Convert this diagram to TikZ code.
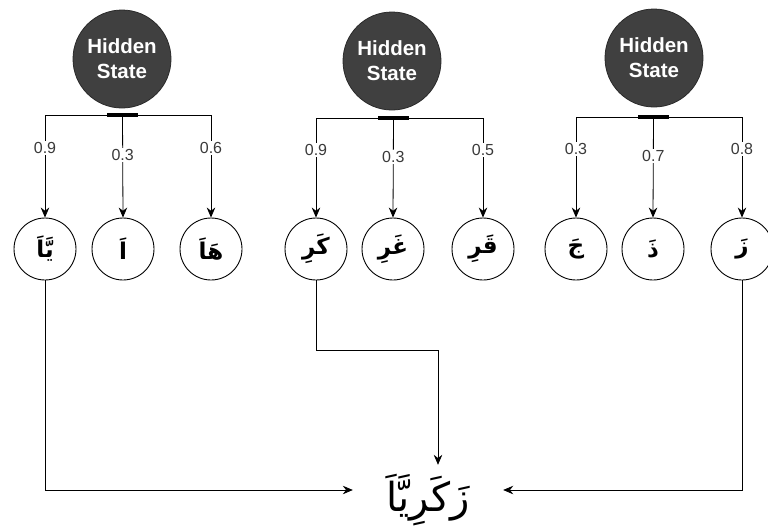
\documentclass[tikz,border=0pt]{standalone}
\usepackage{fontspec}
\setmainfont{Liberation Sans}
\newfontfamily\arabicfont[Script=Arabic]{DejaVu Sans}
\TeXXeTstate=1
\usetikzlibrary{arrows.meta}
\definecolor{hsgray}{HTML}{404040}
\definecolor{hsedge}{HTML}{2A2A2A}
\definecolor{probgray}{HTML}{3A3A3A}

\begin{document}
\begin{tikzpicture}[x=1pt,y=-1pt,
  hidden/.style={circle, fill=hsgray, draw=hsedge, line width=0.8pt, minimum size=98pt,
    inner sep=0pt, text=white, align=center, font=\bfseries\fontsize{20.5}{25}\selectfont},
  letter/.style={circle, draw, line width=0.9pt, minimum size=62pt, inner sep=0pt,
    font=\arabicfont\bfseries\fontsize{23}{26}\selectfont},
  junction/.style={rectangle, fill=black, minimum width=31pt, minimum height=4pt, inner sep=0pt},
  conn/.style={draw, line width=0.8pt, -{Stealth[length=10pt,width=8.5pt]}},
  prob/.style={fill=white, text=probgray, inner sep=1.5pt, font=\fontsize{16}{18}\selectfont},
]
\useasboundingbox (0,0) rectangle (768,525);

% hidden states
\node[hidden] (hs1) at (122,59) {Hidden\\State};
\node[hidden] (hs2) at (392,61) {Hidden\\State};
\node[hidden] (hs3) at (654,58) {Hidden\\State};

% junction bars below each hidden state
\node[junction] (b1) at (122.5,115) {};
\node[junction] (b2) at (393.5,118) {};
\node[junction] (b3) at (653.5,117) {};

% candidate syllables
\node[letter] (c11) at (45,249)  {\beginR يَّاَ\endR};
\node[letter] (c12) at (123,249) {\beginR اَ\endR};
\node[letter] (c13) at (211,249) {\beginR هَاَ\endR};
\node[letter] (c21) at (316,249) {\beginR كَرِ\endR};
\node[letter] (c22) at (393,249) {\beginR غَرِ\endR};
\node[letter] (c23) at (483,249) {\beginR قَرِ\endR};
\node[letter] (c31) at (576,249) {\beginR جَ\endR};
\node[letter] (c32) at (653,249) {\beginR ذَ\endR};
\node[letter] (c33) at (742,249) {\beginR زَ\endR};

% resulting word (baseline pushed down inside a fixed-size box)
\node[minimum width=150pt, minimum height=48pt, inner sep=0pt,
      text height=46pt, text depth=4pt,
      font=\arabicfont\fontsize{40}{42}\selectfont] (word) at (428,490) {\beginR زَكَرِيَّاَ\endR};
\coordinate (bend) at (438,350);

% emission probabilities
\draw[conn] (b1.center) -| node[prob, pos=0.66] {0.9} (c11.north);
\draw[conn] (b1.center) -- node[prob, pos=0.39] {0.3} (c12.north);
\draw[conn] (b1.center) -| node[prob, pos=0.66] {0.6} (c13.north);

\draw[conn] (b2.center) -| node[prob, pos=0.66] {0.9} (c21.north);
\draw[conn] (b2.center) -- node[prob, pos=0.39] {0.3} (c22.north);
\draw[conn] (b2.center) -| node[prob, pos=0.66] {0.5} (c23.north);

\draw[conn] (b3.center) -| node[prob, pos=0.66] {0.3} (c31.north);
\draw[conn] (b3.center) -- node[prob, pos=0.39] {0.7} (c32.north);
\draw[conn] (b3.center) -| node[prob, pos=0.66] {0.8} (c33.north);

% chosen syllables combine into the word
\draw[conn] (c11.south) |- (word.west);
\draw[conn] (c21.south) |- (bend) -- (bend |- word.north);
\draw[conn] (c33.south) |- (word.east);
\end{tikzpicture}
\end{document}
